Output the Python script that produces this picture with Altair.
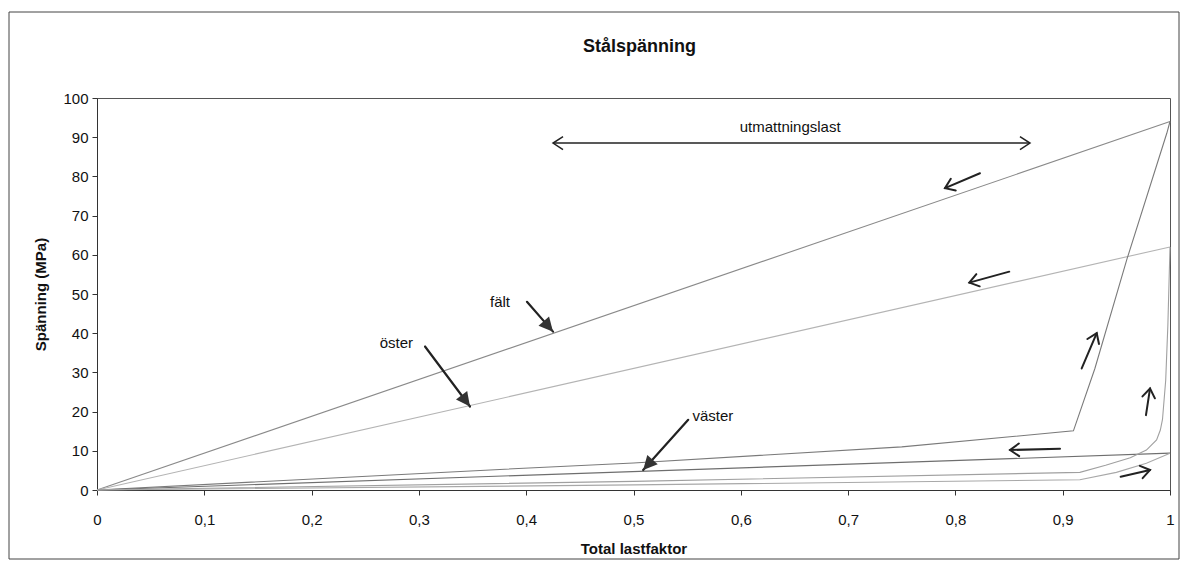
import math
import altair as alt
import pandas as pd

# ---------------- data ----------------
falt_load_x = [0, 0.38, 0.5, 0.75, 0.91, 0.93, 0.96, 0.997, 1.0]
falt_load_y = [0, 5.3, 6.9, 11.0, 15.1, 31.0, 59.0, 91.0, 94.0]
falt_unload_x = [1.0, 0.0]
falt_unload_y = [94.0, 0.0]

oster_load_x = [0, 0.5, 0.916, 0.94, 0.963, 0.978, 0.9875, 0.991, 0.993, 0.996, 0.998, 1.0]
oster_load_y = [0, 2.2, 4.5, 6.3, 8.2, 10.2, 12.8, 15.3, 18.0, 28.0, 42.0, 62.0]
oster_unload_x = [1.0, 0.0]
oster_unload_y = [62.0, 0.0]

vaster_load_x = [0, 0.5, 0.916, 0.95, 0.978, 1.0]
vaster_load_y = [0, 1.3, 2.6, 4.5, 6.8, 9.4]
vaster_unload_x = [1.0, 0.0]
vaster_unload_y = [9.4, 0.0]

path_names = ["fält avlast", "öster avlast", "fält last", "väster avlast", "öster last", "väster last"]
path_colors = ["#8a8a8a", "#b4b4b4", "#7a7a7a", "#6e6e6e", "#a0a0a0", "#a8a8a8"]

# label arrows (filled heads): tail -> tip
lab_arrow_x1 = [0.4007, 0.3057, 0.551]
lab_arrow_y1 = [48.0, 36.6, 17.9]
lab_arrow_x2 = [0.425, 0.3476, 0.509]
lab_arrow_y2 = [40.4, 21.3, 5.1]

# direction arrows (open heads): tail -> tip
dir_arrow_x1 = [0.8229, 0.8502, 0.9177, 0.9776, 0.8975, 0.954]
dir_arrow_y1 = [80.8, 55.7, 31.0, 19.1, 10.5, 3.4]
dir_arrow_x2 = [0.7903, 0.813, 0.9317, 0.9814, 0.8509, 0.9814]
dir_arrow_y2 = [77.0, 52.9, 40.0, 25.9, 10.2, 5.1]

# fatigue-load span (double arrow)
span_x = [0.425, 0.8695]
span_y = 88.5

label_texts = ["fält", "öster", "väster", "utmattningslast"]
label_x = [0.3756, 0.279, 0.574, 0.646]
label_y = [48.0, 37.5, 18.9, 92.6]

x_ticks = [0, 0.1, 0.2, 0.3, 0.4, 0.5, 0.6, 0.7, 0.8, 0.9, 1.0]
y_ticks = [0, 10, 20, 30, 40, 50, 60, 70, 80, 90, 100]

# ---------------- layout ----------------
W, H = 1073, 392
FONT = "Liberation Sans"
PX_X = W / 1.0
PX_Y = H / 100.0


def angle(x1, y1, x2, y2):
    dx = (x2 - x1) * PX_X
    dy = -(y2 - y1) * PX_Y
    return math.degrees(math.atan2(dy, dx)) % 360


rows = []
series = [
    (falt_unload_x, falt_unload_y),
    (oster_unload_x, oster_unload_y),
    (falt_load_x, falt_load_y),
    (vaster_unload_x, vaster_unload_y),
    (oster_load_x, oster_load_y),
    (vaster_load_x, vaster_load_y),
]
for name, (xs, ys) in zip(path_names, series):
    for i, (a, b) in enumerate(zip(xs, ys)):
        rows.append({"x": a, "y": b, "path": name, "ord": i})
lines_df = pd.DataFrame(rows)

xscale = alt.Scale(domain=[0, 1], nice=False, zero=False)
yscale = alt.Scale(domain=[0, 100], nice=False)

x_axis = alt.Axis(
    title="Total lastfaktor", values=x_ticks,
    labelExpr="replace(format(datum.value, '.1~f'), '.', ',')",
    grid=False, tickSize=5, labelPadding=17, titlePadding=14,
    labelFontSize=15, titleFontSize=15, titleFontWeight="bold",
    labelFont=FONT, titleFont=FONT, labelColor="#111", titleColor="#111",
    domainColor="#333", tickColor="#333", labelFlush=False,
)
y_axis = alt.Axis(
    title="Spänning (MPa)", values=y_ticks, grid=False, tickSize=5,
    labelPadding=4, titlePadding=14, labelFontSize=15, titleFontSize=15,
    titleFontWeight="bold", labelFont=FONT, titleFont=FONT,
    labelColor="#111", titleColor="#111", domainColor="#333", tickColor="#333",
)


def X(field):
    return alt.X(field, type="quantitative", scale=xscale, axis=x_axis)


def Y(field):
    return alt.Y(field, type="quantitative", scale=yscale, axis=y_axis)


lines = alt.Chart(lines_df).mark_line(strokeWidth=1.1).encode(
    x=X("x"), y=Y("y"),
    color=alt.Color("path:N", scale=alt.Scale(domain=path_names, range=path_colors), legend=None),
    order="ord:Q",
)

frame = alt.Chart(pd.DataFrame({"a": [0]})).mark_rect(
    fillOpacity=0, stroke="#444", strokeWidth=1
).encode(
    x=alt.value(-88), x2=alt.value(1082), y=alt.value(-86), y2=alt.value(461)
)

lab_df = pd.DataFrame({
    "x1": lab_arrow_x1, "y1": lab_arrow_y1, "x2": lab_arrow_x2, "y2": lab_arrow_y2,
})
lab_df["ang"] = [angle(*r) for r in zip(lab_arrow_x1, lab_arrow_y1, lab_arrow_x2, lab_arrow_y2)]

dir_df = pd.DataFrame({
    "x1": dir_arrow_x1, "y1": dir_arrow_y1, "x2": dir_arrow_x2, "y2": dir_arrow_y2,
})
dir_df["ang"] = [angle(*r) for r in zip(dir_arrow_x1, dir_arrow_y1, dir_arrow_x2, dir_arrow_y2)]

span_df = pd.DataFrame({"x1": [span_x[0]], "x2": [span_x[1]], "y1": [span_y]})
span_heads = pd.DataFrame({"x2": span_x, "y2": [span_y, span_y], "ang": [180.0, 0.0]})


def shafts(df, width):
    return alt.Chart(df).mark_rule(color="#222", strokeWidth=width, strokeCap="round").encode(
        x=X("x1"), y=Y("y1"), x2="x2:Q", y2="y2:Q",
    )


lab_shafts = shafts(lab_df, 2.2)
dir_shafts = shafts(dir_df, 2)
span_shaft = alt.Chart(span_df).mark_rule(color="#222", strokeWidth=1.5).encode(
    x=X("x1"), y=Y("y1"), x2="x2:Q",
)

lab_heads = alt.Chart(lab_df).mark_point(
    shape="M0,0L-1,-0.5L-1,0.5Z", filled=True, color="#333", opacity=1, size=784,
).encode(
    x=X("x2"), y=Y("y2"), angle=alt.Angle("ang:Q", scale=None),
)

dir_heads = alt.Chart(dir_df).mark_point(
    shape="M-1,-0.7L0,0L-1,0.7", filled=False, color="#222", opacity=1, size=324,
    strokeWidth=2, strokeCap="round", strokeJoin="miter",
).encode(
    x=X("x2"), y=Y("y2"), angle=alt.Angle("ang:Q", scale=None),
)

span_head_marks = alt.Chart(span_heads).mark_point(
    shape="M-1,-0.65L0,0L-1,0.65", filled=False, color="#222", opacity=1, size=400,
    strokeWidth=1.5,
).encode(
    x=X("x2"), y=Y("y2"), angle=alt.Angle("ang:Q", scale=None),
)

texts = alt.Chart(pd.DataFrame({"t": label_texts, "x": label_x, "y": label_y})).mark_text(
    font=FONT, fontSize=15, color="#111", align="center", baseline="middle",
).encode(
    x=X("x"), y=Y("y"), text="t:N",
)

chart = alt.layer(
    frame, lines, lab_shafts, lab_heads, dir_shafts, dir_heads,
    span_shaft, span_head_marks, texts,
).properties(
    width=W, height=H,
    title=alt.TitleParams(
        "Stålspänning", font=FONT, fontSize=18, fontWeight="bold", color="#111",
        anchor="middle", offset=-44, dx=6,
    ),
    autosize=alt.AutoSizeParams(type="none"),
    padding={"left": 89, "top": 90, "right": 10, "bottom": 70},
    background="white",
).configure_view(stroke="#555", strokeWidth=1)

chart.save("out.html", embed_options={"renderer": "svg", "actions": False})
